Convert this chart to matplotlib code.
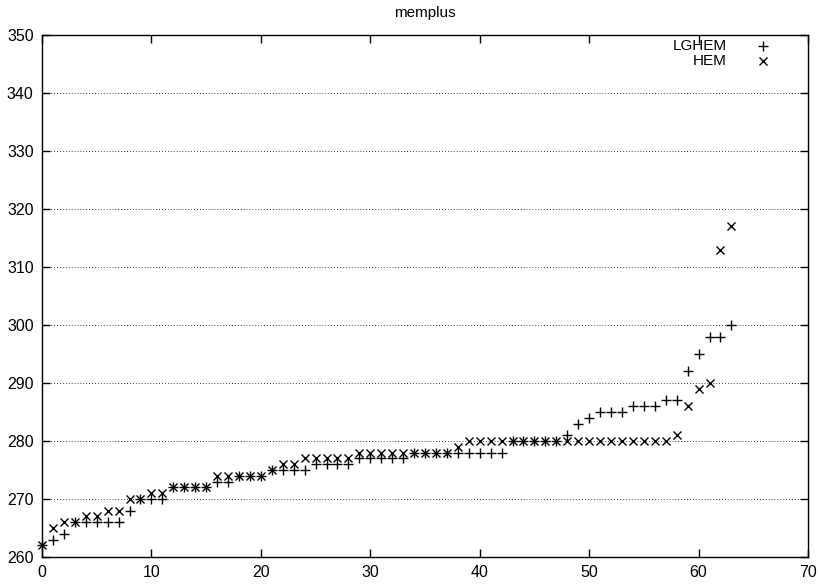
import matplotlib
matplotlib.use("Agg")
import matplotlib.pyplot as plt

plt.rcParams['font.family'] = ['Liberation Sans', 'DejaVu Sans']

title = "memplus"
x_idx = list(range(64))
lghem = [262, 263, 264, 266, 266, 266, 266, 266, 268, 270,
         270, 270, 272, 272, 272, 272, 273, 273, 274, 274,
         274, 275, 275, 275, 275, 276, 276, 276, 276, 277,
         277, 277, 277, 277, 278, 278, 278, 278, 278, 278,
         278, 278, 278, 280, 280, 280, 280, 280, 281, 283,
         284, 285, 285, 285, 286, 286, 286, 287, 287, 292,
         295, 298, 298, 300]
hem = [262, 265, 266, 266, 267, 267, 268, 268, 270, 270,
       271, 271, 272, 272, 272, 272, 274, 274, 274, 274,
       274, 275, 276, 276, 277, 277, 277, 277, 277, 278,
       278, 278, 278, 278, 278, 278, 278, 278, 279, 280,
       280, 280, 280, 280, 280, 280, 280, 280, 280, 280,
       280, 280, 280, 280, 280, 280, 280, 280, 281, 286,
       289, 290, 313, 317]
series_names = ['LGHEM', 'HEM']
xticks = list(range(0, 71, 10))
yticks = list(range(260, 351, 10))

fig = plt.figure(figsize=(8.18, 5.85), dpi=100)
ax = fig.add_axes([42/818, 1-557/585, (808-42)/818, (557-35)/585])

plus_kw = dict(linestyle='none', marker='+', markersize=6.5, markeredgewidth=1.0, color='black')
x_kw = dict(linestyle='none', marker='x', markersize=5.5, markeredgewidth=1.0, color='black')

ax.plot(x_idx, lghem, clip_on=False, **plus_kw)
ax.plot(x_idx, hem, clip_on=False, **x_kw)

ax.set_xlim(0, 70)
ax.set_ylim(260, 350)
ax.set_xticks(xticks)
ax.set_yticks(yticks)
ax.tick_params(direction='in', length=6, width=1, top=True, right=True,
               labelsize=11.5, pad=6)
for s in ax.spines.values():
    s.set_linewidth(1.0)
for y in yticks[1:-1]:
    ax.axhline(y, color='black', linestyle=(0, (1, 2.5)), linewidth=0.6, zorder=0)

ax.set_title(title, fontsize=11, pad=13)

# legend (gnuplot style: right-aligned label then sample)
ax.text(0.894, 0.979, series_names[0], transform=ax.transAxes, ha='right', va='center', fontsize=11)
ax.text(0.894, 0.950, series_names[1], transform=ax.transAxes, ha='right', va='center', fontsize=11)
ax.plot([0.941], [0.979], transform=ax.transAxes, clip_on=False, **plus_kw)
ax.plot([0.941], [0.950], transform=ax.transAxes, clip_on=False, **x_kw)

fig.savefig('out.png', dpi=100)
